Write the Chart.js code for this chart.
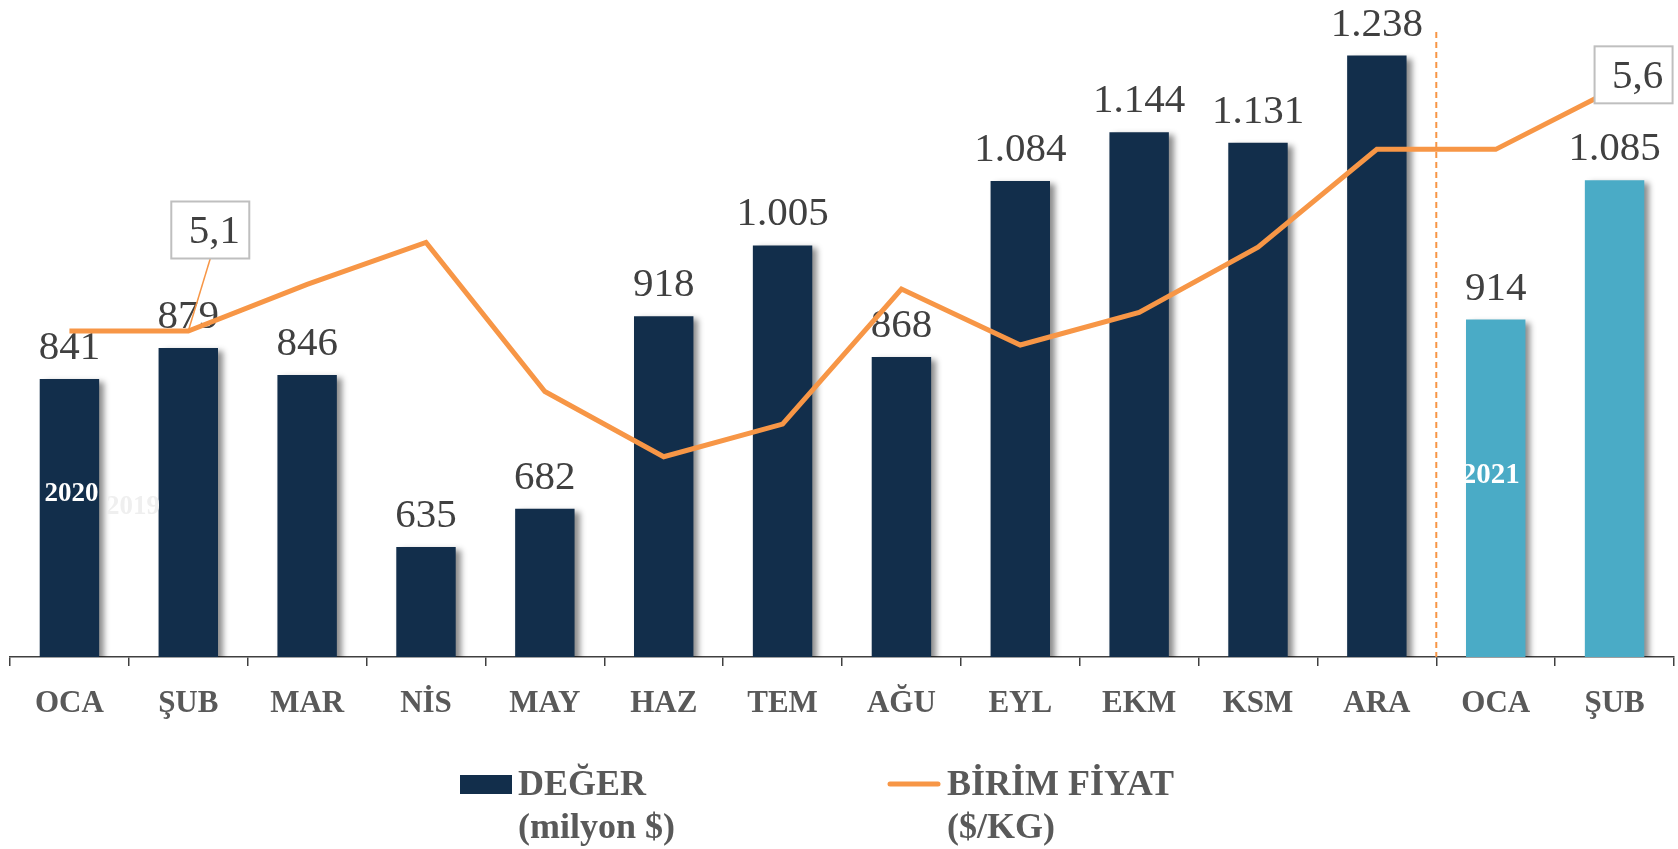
<!DOCTYPE html>
<html>
<head>
<meta charset="utf-8">
<script src="https://cdn.jsdelivr.net/npm/chart.js@4"></script>
<style>
  html, body { margin: 0; padding: 0; background: #fff; }
  #wrap { width: 1678px; height: 849px; position: relative; }
</style>
</head>
<body>
<div id="wrap"><canvas id="chart"></canvas></div>
<script>
// ---- data ----
const months = ["OCA", "ŞUB", "MAR", "NİS", "MAY", "HAZ", "TEM", "AĞU", "EYL", "EKM", "KSM", "ARA", "OCA", "ŞUB"];
const years = ["2020", "2020", "2020", "2020", "2020", "2020", "2020", "2020", "2020", "2020", "2020", "2020", "2021", "2021"];
const values = [841, 879, 846, 635, 682, 918, 1005, 868, 1084, 1144, 1131, 1238, 914, 1085];   // DEĞER (milyon $)
const unitPrice = [5.1, 5.1, 5.2, 5.29, 4.97, 4.83, 4.9, 5.19, 5.07, 5.14, 5.28, 5.49, 5.49, 5.62]; // BİRİM FİYAT ($/KG)
const calloutIdx = [1, 13];

const NAVY = "#122e4b";
const TEAL = "#4aabc6";
const ORANGE = "#f79646";
const SERIF = "'Liberation Serif', 'Times New Roman', serif";

function trNumber(v) {
  if (v < 1000) return String(v);
  return Math.floor(v / 1000) + "." + String(v % 1000).padStart(3, "0");
}

// shadow + value labels on the bars
const barDecor = {
  id: "barDecor",
  beforeDatasetDraw(chart, args) {
    if (args.meta.type !== "bar") return;
    const ctx = chart.ctx;
    ctx.save();
    ctx.shadowColor = "rgba(0,0,0,0.45)";
    ctx.shadowBlur = 6;
    ctx.shadowOffsetX = 5;
    ctx.shadowOffsetY = 3;
  },
  afterDatasetDraw(chart, args) {
    if (args.meta.type !== "bar") return;
    const ctx = chart.ctx;
    ctx.restore();
    ctx.save();
    ctx.textAlign = "center";
    ctx.textBaseline = "alphabetic";
    ctx.font = "41px " + SERIF;
    ctx.fillStyle = "#404040";
    args.meta.data.forEach((bar, i) => {
      ctx.fillText(trNumber(values[i]), bar.x, bar.y - 20);
    });
    // year markers inside first bar of each year
    let lastYear = null;
    args.meta.data.forEach((bar, i) => {
      if (years[i] !== lastYear) {
        ctx.fillStyle = "#ffffff";
        ctx.textBaseline = "middle";
        if (years[i] === "2020") {
          ctx.font = "bold 27px " + SERIF;
          ctx.fillText(years[i], bar.x + 2, 494);
        } else {
          ctx.font = "bold 29px " + SERIF;
          ctx.fillText(years[i], bar.x - 5, 476);
        }
        lastYear = years[i];
      }
    });
    // faint leftover text
    ctx.font = "bold 27px " + SERIF;
    ctx.fillStyle = "#efefef";
    ctx.fillText("2019", 133, 507);
    ctx.restore();
  }
};

// year divider, callout boxes, legend
const overlay = {
  id: "overlay",
  afterDatasetsDraw(chart) {
    const ctx = chart.ctx;
    const x = chart.scales.x;
    const area = chart.chartArea;
    // dashed divider between ARA and OCA
    const divX = (x.getPixelForValue(11) + x.getPixelForValue(12)) / 2;
    ctx.save();
    ctx.strokeStyle = ORANGE;
    ctx.lineWidth = 2;
    ctx.setLineDash([6, 4]);
    ctx.beginPath();
    ctx.moveTo(divX, 32);
    ctx.lineTo(divX, area.bottom);
    ctx.stroke();
    ctx.restore();

    // callouts
    const pts = chart.getDatasetMeta(0).data;
    const boxOffsets = { 1: [22, -101], 13: [19, -14] };
    calloutIdx.forEach(i => {
      const p = pts[i];
      const off = boxOffsets[i];
      const bw = 78, bh = 57;
      const cx = p.x + off[0], cy = p.y + off[1];
      ctx.save();
      if (i === 1) {
        ctx.strokeStyle = ORANGE;
        ctx.lineWidth = 1.5;
        ctx.beginPath();
        ctx.moveTo(p.x, p.y);
        ctx.lineTo(cx, cy + bh / 2);
        ctx.stroke();
      }
      ctx.fillStyle = "#ffffff";
      ctx.fillRect(cx - bw / 2, cy - bh / 2, bw, bh);
      ctx.strokeStyle = "#bfbfbf";
      ctx.lineWidth = 2;
      ctx.strokeRect(cx - bw / 2, cy - bh / 2, bw, bh);
      ctx.fillStyle = "#404040";
      ctx.font = "41px " + SERIF;
      ctx.textAlign = "center";
      ctx.textBaseline = "middle";
      ctx.fillText(unitPrice[i].toFixed(1).replace(".", ","), cx + 4, cy + 2);
      ctx.restore();
    });

    // legend
    ctx.save();
    ctx.fillStyle = NAVY;
    ctx.fillRect(460, 775, 52, 19);
    ctx.strokeStyle = ORANGE;
    ctx.lineWidth = 5;
    ctx.lineCap = "round";
    ctx.beginPath();
    ctx.moveTo(890, 784);
    ctx.lineTo(938, 784);
    ctx.stroke();
    ctx.fillStyle = "#595959";
    ctx.font = "bold 36px " + SERIF;
    ctx.textAlign = "left";
    ctx.textBaseline = "middle";
    ctx.fillText("DEĞER", 518, 786);
    ctx.fillText("(milyon $)", 518, 829);
    ctx.fillText("BİRİM FİYAT", 947, 786);
    ctx.fillText("($/KG)", 947, 829);
    ctx.restore();
  }
};

new Chart(document.getElementById("chart"), {
  data: {
    labels: months,
    datasets: [
      {
        type: "line",
        label: "BİRİM FİYAT ($/KG)",
        data: unitPrice,
        yAxisID: "y1",
        borderColor: ORANGE,
        borderWidth: 5,
        pointRadius: 0,
        tension: 0,
        order: 0
      },
      {
        type: "bar",
        label: "DEĞER (milyon $)",
        data: values,
        yAxisID: "y",
        backgroundColor: years.map(y => y === "2020" ? NAVY : TEAL),
        categoryPercentage: 1,
        barPercentage: 0.5,
        order: 1
      }
    ]
  },
  options: {
    responsive: true,
    maintainAspectRatio: false,
    animation: false,
    layout: { padding: { left: 10, right: 4, top: 5, bottom: 0 } },
    plugins: {
      legend: { display: false },
      tooltip: { enabled: false }
    },
    scales: {
      x: {
        offset: true,
        grid: {
          display: true,
          drawOnChartArea: false,
          drawTicks: true,
          tickLength: 9,
          offset: true,
          color: "#404040",
          lineWidth: 1.5
        },
        border: { display: true, color: "#404040", width: 1.5 },
        ticks: {
          color: "#595959",
          font: { family: SERIF, size: 31, weight: "bold" },
          padding: 19,
          maxRotation: 0,
          autoSkip: false
        },
        afterFit(scale) { scale.height = 192; }
      },
      y: { display: false, min: 500, max: 1300 },
      y1: { display: false, min: 4.4, max: 5.8, position: "right" }
    }
  },
  plugins: [barDecor, overlay]
});
</script>
</body>
</html>
